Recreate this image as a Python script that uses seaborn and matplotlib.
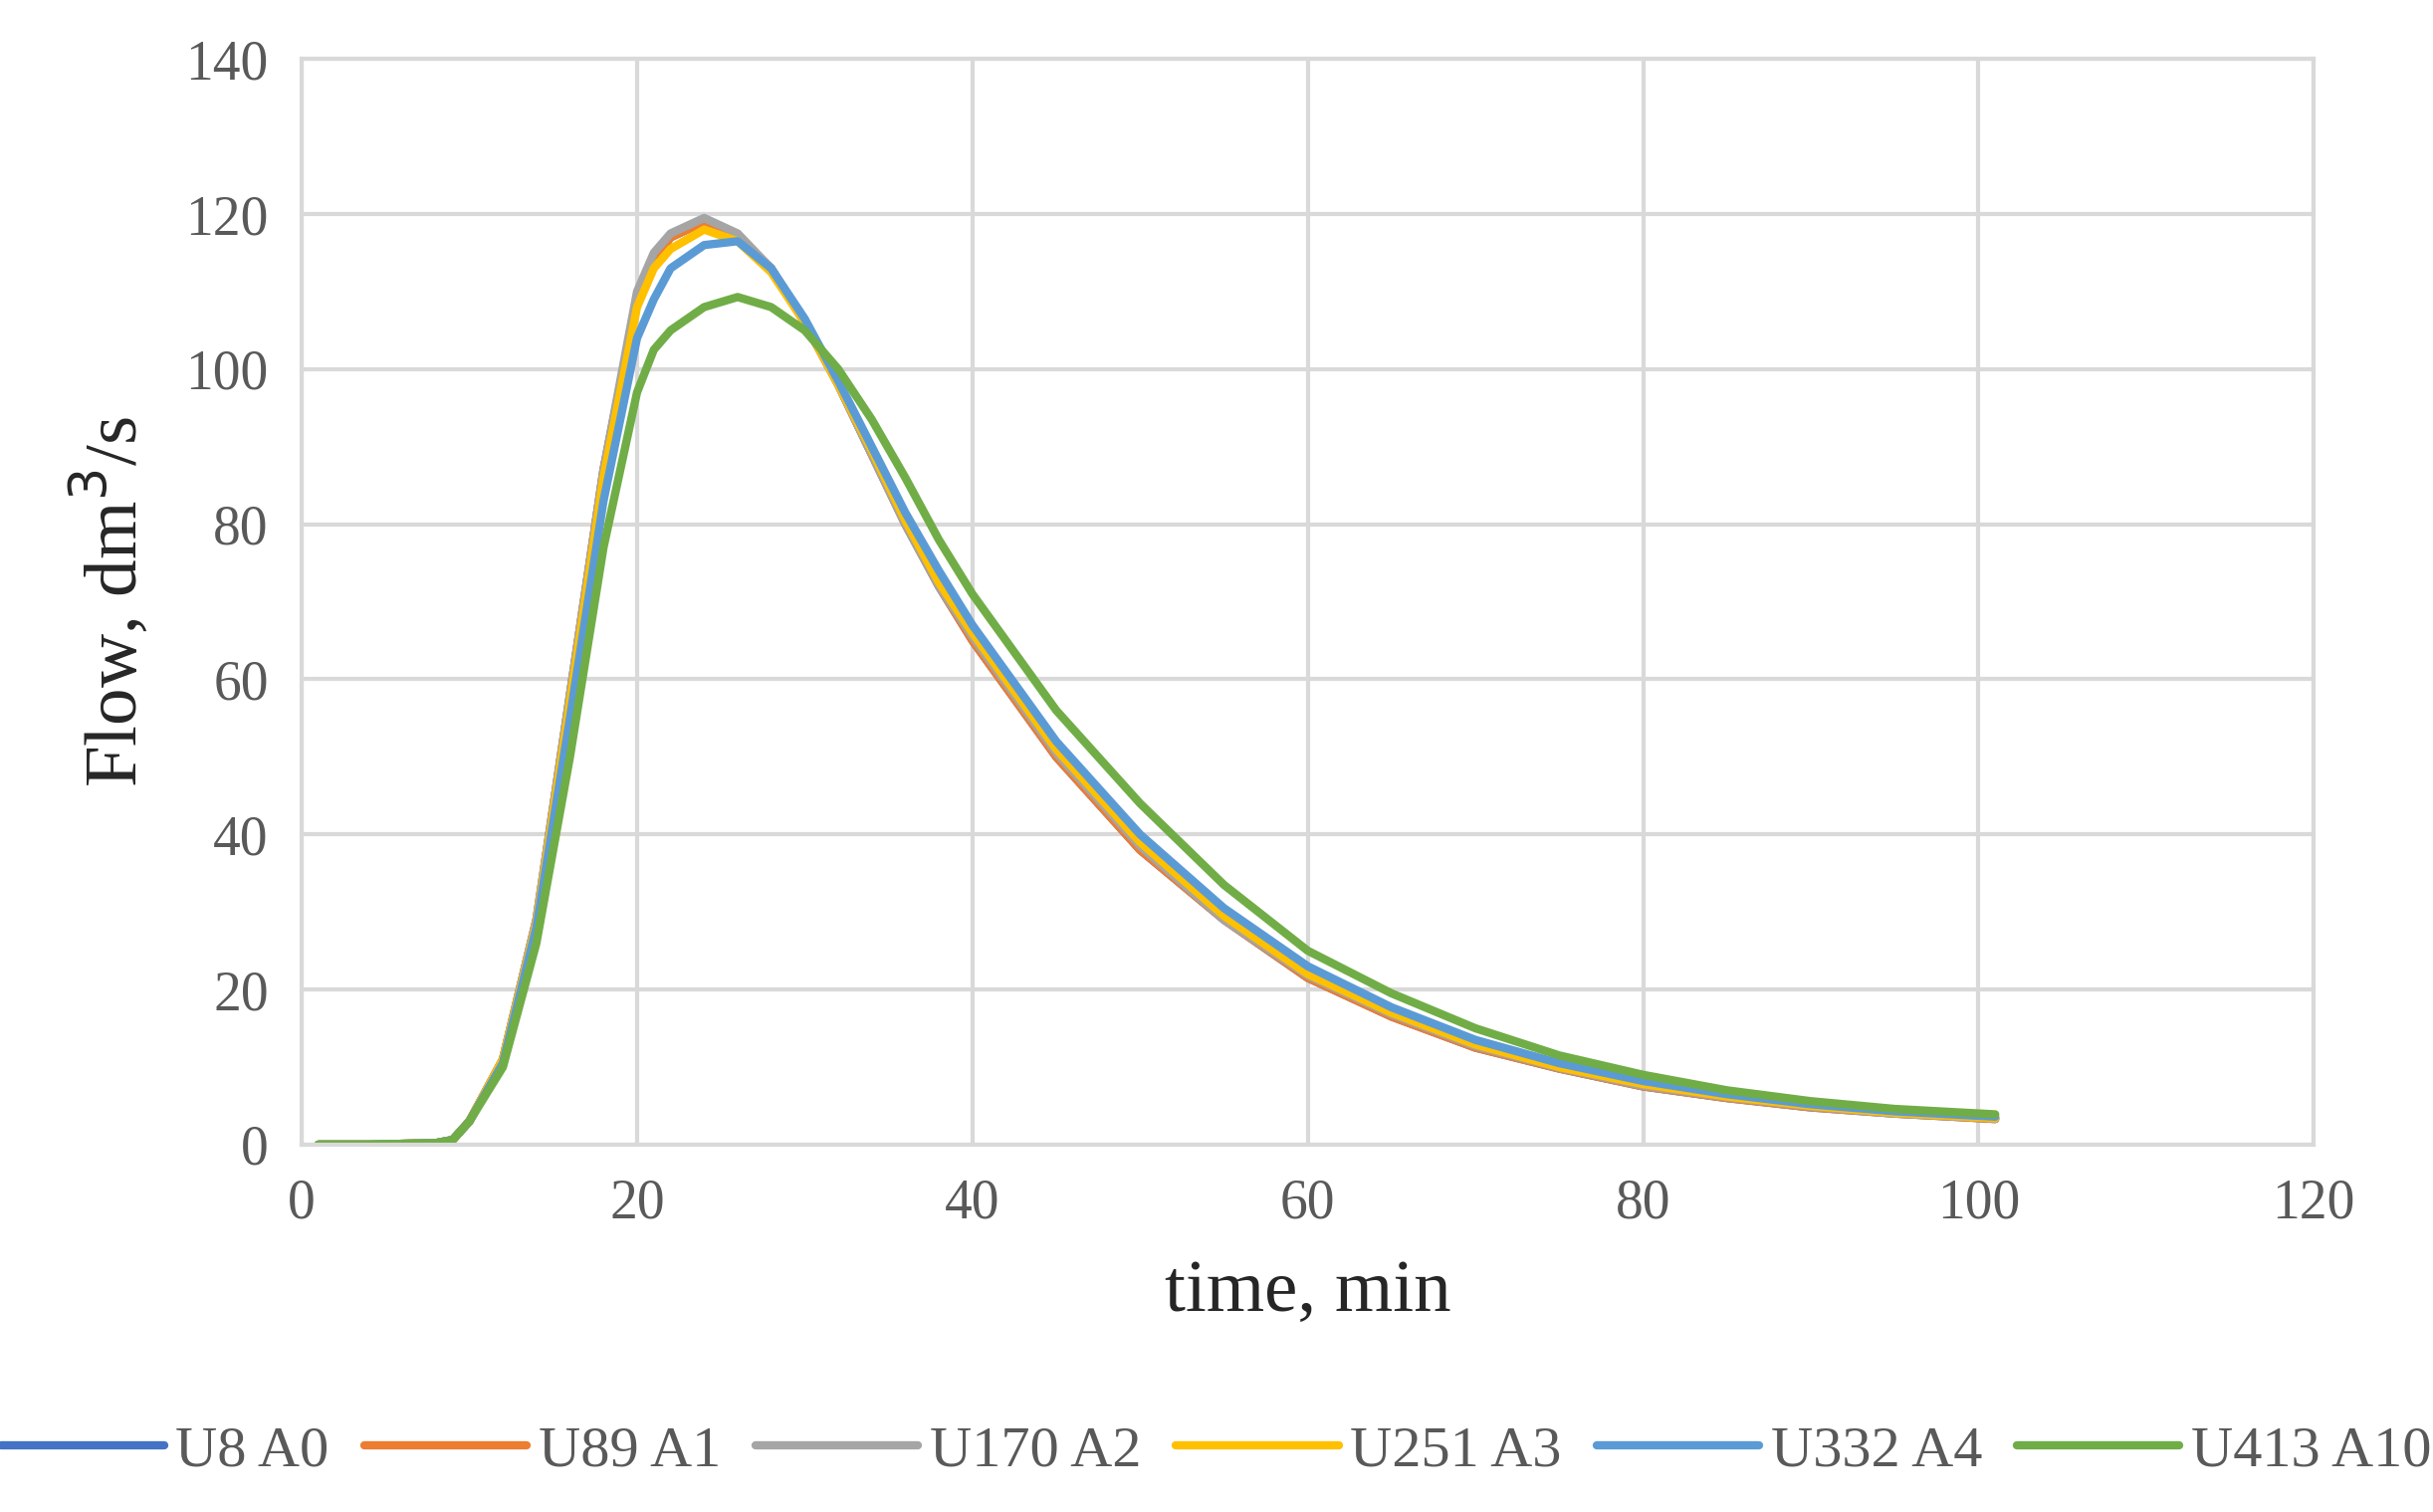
import matplotlib
matplotlib.use("Agg")
import matplotlib.pyplot as plt
import numpy as np
import pandas as pd
import seaborn as sns

# time, min
time = [1, 4, 8, 9, 10, 12, 14, 16, 18, 20, 21, 22, 24, 26, 28, 30, 32, 34, 36, 38,
        40, 45, 50, 55, 60, 65, 70, 75, 80, 85, 90, 95, 101]

u8_a0 = [0, 0, 0.2, 0.6, 3, 11, 29, 58, 87, 109, 114, 117, 119, 117, 113, 106, 98, 89, 80, 72,
         65, 50, 38, 29, 21.5, 16.5, 12.5, 9.8, 7.5, 6, 4.8, 4, 3.3]
u89_a1 = [0, 0, 0.2, 0.6, 3, 11, 29, 58, 87, 109, 114, 117, 119, 117, 113, 106, 98, 89, 80, 72,
          65, 50, 38, 29, 21.5, 16.5, 12.5, 9.8, 7.5, 6, 4.8, 4, 3.3]
u170_a2 = [0, 0, 0.2, 0.6, 3, 11, 29, 58, 87, 110, 115, 117.5, 119.5, 117.5, 113, 106, 98, 89, 80, 72,
           65.5, 50.5, 38.5, 29, 21.8, 16.8, 12.7, 9.9, 7.6, 6.1, 4.9, 4, 3.4]
u251_a3 = [0, 0, 0.2, 0.6, 3, 11, 28.5, 57, 86, 108, 113, 115.5, 118, 116.5, 112.5, 106, 98, 89.5, 80.5, 72.5,
           66, 51, 39, 29.5, 22, 17, 12.9, 10, 7.8, 6.2, 5, 4.1, 3.4]
u332_a4 = [0, 0, 0.2, 0.6, 3, 10.5, 28, 55, 83, 104, 109, 113, 116, 116.5, 113, 106.5, 98.5, 90, 81.5, 74,
           67, 52, 40, 30.5, 23, 17.7, 13.5, 10.5, 8.2, 6.5, 5.2, 4.3, 3.6]
u413_a10 = [0, 0, 0.2, 0.6, 3, 10, 26, 50, 77, 97, 102.5, 105, 108, 109.3, 108, 105, 100, 93.5, 86, 78,
            71, 56, 44, 33.5, 25, 19.5, 15, 11.5, 9, 7, 5.6, 4.6, 3.9]

series_names = ["U8 A0", "U89 A1", "U170 A2", "U251 A3", "U332 A4", "U413 A10"]
series_values = [u8_a0, u89_a1, u170_a2, u251_a3, u332_a4, u413_a10]
colors = ["#4472C4", "#ED7D31", "#A5A5A5", "#FFC000", "#5B9BD5", "#70AD47"]

df = pd.concat([pd.DataFrame({"time": time, "flow": v, "series": n})
                for n, v in zip(series_names, series_values)])

sns.set_style("white")
plt.rcParams["font.family"] = ["Liberation Serif", "DejaVu Serif"]

fig = plt.figure(figsize=(24.44, 15.19), dpi=100)
ax = fig.add_axes([0.124, 0.243, 0.827, 0.718])
sns.lineplot(data=df, x="time", y="flow", hue="series", hue_order=series_names,
             palette=colors, linewidth=6, ax=ax, legend=False,
             solid_joinstyle="round", solid_capstyle="round")

ax.set_xlim(0, 120)
ax.set_ylim(0, 140)
ax.set_xticks(np.arange(0, 121, 20))
ax.set_yticks(np.arange(0, 141, 20))
ax.grid(True, color="#D9D9D9", linewidth=3)
ax.set_axisbelow(True)
for s in ax.spines.values():
    s.set_color("#D9D9D9")
    s.set_linewidth(3)
ax.tick_params(axis="both", length=0, labelsize=40, colors="#595959", pad=24)
ax.set_xlabel("time, min", fontsize=54, labelpad=22)
ax.set_ylabel("Flow, dm$^3$/s", fontsize=54, labelpad=24)

handles = [plt.Line2D([], [], color=c, linewidth=6) for c in colors]
fig.legend(handles, series_names, loc="lower center", ncol=6, frameon=False,
           fontsize=42, bbox_to_anchor=(0.5, -0.012), handlelength=2.8,
           columnspacing=0.6, handletextpad=0.2, labelcolor="#595959")

fig.savefig("out.png", dpi=100)
